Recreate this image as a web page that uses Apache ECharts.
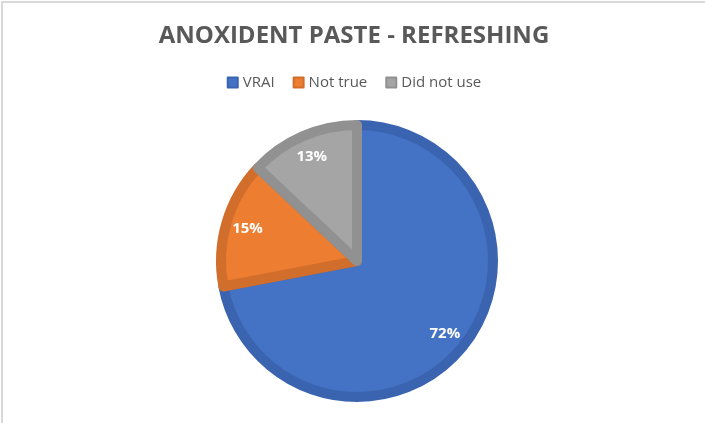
<!DOCTYPE html>
<html>
<head>
<meta charset="utf-8">
<script src="https://cdn.jsdelivr.net/npm/echarts@6/dist/echarts.min.js"></script>
<style>
  html, body { margin: 0; padding: 0; background: #fff; }
  #myChart {
    position: absolute; left: 1px; top: 1px;
    width: 704px; height: 422px;
    border-top: 2px solid #d9d9d9;
    border-left: 2px solid #d9d9d9;
    box-sizing: border-box;
  }
</style>
</head>
<body>
<div id="myChart"></div>
<script>
  // data
  var categories = ['VRAI', 'Not true', 'Did not use'];
  var shares = [72, 15, 13];
  var colors = ['#4472C4', '#ED7D31', '#A5A5A5'];
  var edgeColors = ['#3B64B0', '#D26E2B', '#919191'];

  var pieData = categories.map(function (name, i) {
    return {
      name: name,
      value: shares[i],
      itemStyle: { color: colors[i], borderColor: edgeColors[i] }
    };
  });

  // label-only copy so the percentages sit further out like Excel does
  var labelData = categories.map(function (name, i) {
    return { name: name, value: shares[i] };
  });

  var myChart = echarts.init(document.getElementById('myChart'));
  myChart.setOption({
    animation: false,
    title: {
      text: 'ANOXIDENT PASTE - REFRESHING',
      left: 'center',
      top: 16,
      textStyle: {
        fontFamily: 'Open Sans',
        fontWeight: 'bold',
        fontSize: 24,
        color: '#595959'
      }
    },
    legend: {
      data: categories,
      top: 67,
      left: 'center',
      icon: 'rect',
      itemWidth: 10,
      itemHeight: 10,
      itemGap: 18,
      textStyle: { fontFamily: 'Open Sans', fontSize: 15, color: '#595959' }
    },
    series: [
      {
        name: 'main',
        type: 'pie',
        center: [354, 258],
        radius: [0, 136],
        startAngle: 90,
        clockwise: true,
        itemStyle: { borderWidth: 10 },
        label: { show: false },
        labelLine: { show: false },
        emphasis: { disabled: true },
        data: pieData
      },
      {
        name: 'labels',
        type: 'pie',
        center: [354, 258],
        radius: [98, 124],
        startAngle: 90,
        clockwise: true,
        silent: true,
        itemStyle: { color: 'rgba(0,0,0,0)', borderWidth: 0 },
        label: {
          show: true,
          position: 'inside',
          formatter: '{c}%',
          fontFamily: 'Open Sans',
          fontWeight: 'bold',
          fontSize: 15,
          color: '#fff'
        },
        labelLine: { show: false },
        emphasis: { disabled: true },
        data: labelData
      }
    ]
  });
</script>
</body>
</html>
